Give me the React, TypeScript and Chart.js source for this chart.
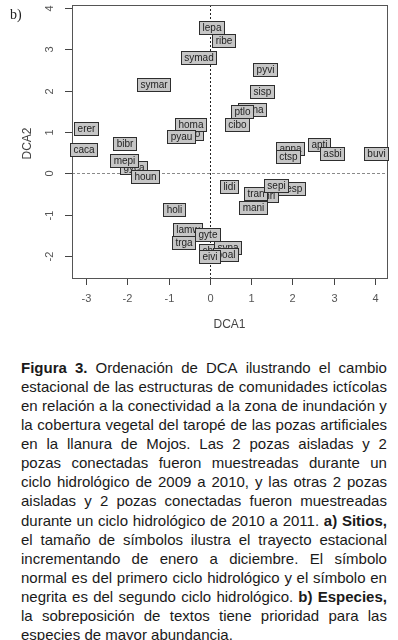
import React, { useEffect, useRef } from 'react';
import { Chart, registerables } from 'chart.js';

Chart.register(...registerables);

// Species labels (draw order: later ones are drawn on top)
const species = [
  'lepa', 'ribe', 'symad', 'symar', 'pyvi', 'sisp', 'pona', 'ptlo', 'cibo',
  'anna', 'ctsp', 'apti', 'asbi', 'buvi', 'erer', 'caca', 'bibr', 'gyca',
  'mepi', 'houn', 'hypo', 'homa', 'pyau', 'holi', 'crla', 'lamw', 'trga',
  'gyte', 'chsi', 'syna', 'boal', 'eivi', 'lidi', 'hesp', 'phri', 'tran',
  'sepi', 'mani',
];
const dca1 = [
  0.03, 0.34, -0.27, -1.36, 1.33, 1.26, 1.02, 0.77, 0.65,
  1.94, 1.89, 2.64, 2.95, 4.02, -3.0, -3.05, -2.06, -1.84,
  -2.08, -1.57, -0.51, -0.48, -0.7, -0.87, -0.63, -0.53, -0.63,
  -0.05, 0.02, 0.43, 0.39, 0.0, 0.46, 1.96, 1.36, 1.11,
  1.6, 1.04,
];
const dca2 = [
  3.52, 3.2, 2.79, 2.16, 2.52, 1.99, 1.55, 1.5, 1.17,
  0.61, 0.41, 0.7, 0.49, 0.49, 1.09, 0.58, 0.73, 0.15,
  0.32, -0.07, 0.97, 1.19, 0.9, -0.87, -1.41, -1.36, -1.67,
  -1.48, -1.87, -1.8, -1.97, -2.01, -0.32, -0.36, -0.53, -0.49,
  -0.29, -0.83,
];

const xTicks = [-3, -2, -1, 0, 1, 2, 3, 4];
const yTicks = [-2, -1, 0, 1, 2, 3, 4];
const xTitle = 'DCA1';
const yTitle = 'DCA2';
const panelLabel = 'b)';

const caption = [
  '**Figura** **3.** Ordenación de DCA ilustrando el cambio',
  'estacional de las estructuras de comunidades ictícolas',
  'en relación a la conectividad a la zona de inundación y',
  'la cobertura vegetal del taropé de las pozas artificiales',
  'en la llanura de Mojos. Las 2 pozas aisladas y 2',
  'pozas conectadas fueron muestreadas durante un',
  'ciclo hidrológico de 2009 a 2010, y las otras 2 pozas',
  'aisladas y 2 pozas conectadas fueron muestreadas',
  'durante un ciclo hidrológico de 2010 a 2011. **a)** **Sitios,**',
  'el tamaño de símbolos ilustra el trayecto estacional',
  'incrementando de enero a diciembre. El símbolo',
  'normal es del primero ciclo hidrológico y el símbolo en',
  'negrita es del segundo ciclo hidrológico. **b)** **Especies,**',
  'la sobreposición de textos tiene prioridad para las',
  'especies de mayor abundancia.',
];

const SANS = '"Liberation Sans", Arial, Helvetica, sans-serif';

const ordPlugin = {
  id: 'ordination',
  beforeDatasetsDraw(chart: any) {
    const { ctx, chartArea: a, scales } = chart;
    const x = scales.x;
    const y = scales.y;
    ctx.save();
    // zero reference lines
    ctx.lineWidth = 1;
    ctx.setLineDash([3, 2]);
    ctx.strokeStyle = '#8a8a8a';
    const y0 = Math.round(y.getPixelForValue(0)) + 0.5;
    ctx.beginPath();
    ctx.moveTo(a.left, y0);
    ctx.lineTo(a.right, y0);
    ctx.stroke();
    ctx.setLineDash([2, 2]);
    ctx.strokeStyle = '#222';
    const x0 = Math.round(x.getPixelForValue(0)) + 0.5;
    ctx.beginPath();
    ctx.moveTo(x0, a.top);
    ctx.lineTo(x0, a.bottom);
    ctx.stroke();
    ctx.setLineDash([]);

    // frame
    ctx.strokeStyle = '#555';
    ctx.strokeRect(Math.round(a.left) + 0.5, Math.round(a.top) + 0.5,
      Math.round(a.right - a.left), Math.round(a.bottom - a.top));

    // x ticks
    ctx.strokeStyle = '#444';
    ctx.fillStyle = '#555';
    ctx.font = '11px ' + SANS;
    ctx.textAlign = 'center';
    ctx.textBaseline = 'middle';
    xTicks.forEach((t) => {
      const px = Math.round(x.getPixelForValue(t)) + 0.5;
      ctx.beginPath();
      ctx.moveTo(px, a.bottom + 1);
      ctx.lineTo(px, a.bottom + 7);
      ctx.stroke();
      ctx.fillText(String(t), px, a.bottom + 21);
    });
    // y ticks (labels parallel to axis)
    yTicks.forEach((t) => {
      const py = Math.round(y.getPixelForValue(t)) + 0.5;
      ctx.beginPath();
      ctx.moveTo(a.left - 7, py);
      ctx.lineTo(a.left, py);
      ctx.stroke();
      ctx.save();
      ctx.translate(a.left - 22, py);
      ctx.rotate(-Math.PI / 2);
      ctx.fillText(String(t), 0, 0);
      ctx.restore();
    });

    // axis titles
    ctx.fillStyle = '#444';
    ctx.font = '12px ' + SANS;
    ctx.fillText(xTitle, (a.left + a.right) / 2, a.bottom + 47);
    ctx.save();
    ctx.translate(28, (a.top + a.bottom) / 2 + 2);
    ctx.rotate(-Math.PI / 2);
    ctx.fillText(yTitle, 0, 0);
    ctx.restore();

    // panel label
    ctx.fillStyle = '#222';
    ctx.font = '14px "Liberation Serif", "Times New Roman", serif';
    ctx.textAlign = 'left';
    ctx.fillText(panelLabel, 10, 15);
    ctx.restore();
  },
  afterDatasetsDraw(chart: any) {
    const { ctx } = chart;
    const meta = chart.getDatasetMeta(0);
    ctx.save();
    ctx.font = '10px ' + SANS;
    ctx.textAlign = 'center';
    ctx.textBaseline = 'middle';
    ctx.lineWidth = 1;
    meta.data.forEach((pt: any, i: number) => {
      const label = species[i];
      const w = Math.round(ctx.measureText(label).width + 6);
      const h = 13;
      const left = Math.round(pt.x - w / 2) + 0.5;
      const top = Math.round(pt.y - h / 2) + 0.5;
      ctx.fillStyle = '#c6c6c6';
      ctx.fillRect(left, top, w, h);
      ctx.strokeStyle = '#2e2e2e';
      ctx.strokeRect(left, top, w, h);
      ctx.fillStyle = '#1e1e1e';
      ctx.fillText(label, left + w / 2, top + h / 2 + 0.5);
    });
    ctx.restore();
  },
};

function renderCaptionLine(line: string, idx: number, last: boolean) {
  const words = line.split(' ');
  const items = words.map((w, i) => {
    const bold = w.startsWith('**') && w.endsWith('**');
    const txt = bold ? w.slice(2, -2) : w;
    const sep = last && i < words.length - 1 ? ' ' : '';
    return bold ? (
      <b key={i}>{txt}{sep}</b>
    ) : (
      <span key={i}>{txt}{sep}</span>
    );
  });
  return (
    <div
      key={idx}
      style={{
        display: last ? 'block' : 'flex',
        justifyContent: 'space-between',
        whiteSpace: 'pre',
        height: '19.1px',
      }}
    >
      {items}
    </div>
  );
}

export default function App() {
  const ref = useRef<HTMLCanvasElement>(null);
  useEffect(() => {
    if (!ref.current) return;
    const chart = new Chart(ref.current, {
      type: 'scatter',
      data: {
        datasets: [
          {
            label: 'especies',
            data: species.map((_, i) => ({ x: dca1[i], y: dca2[i] })),
            pointRadius: 0,
            pointHoverRadius: 0,
          },
        ],
      },
      options: {
        responsive: false,
        maintainAspectRatio: false,
        devicePixelRatio: 1,
        animation: false,
        events: [],
        layout: { padding: { left: 72, top: 5, right: 11, bottom: 62 } },
        plugins: {
          legend: { display: false },
          tooltip: { enabled: false },
        },
        scales: {
          x: { type: 'linear', display: false, min: -3.339, max: 4.29 },
          y: { type: 'linear', display: false, min: -2.53, max: 4.07 },
        },
      },
      plugins: [ordPlugin],
    } as any);
    return () => chart.destroy();
  }, []);

  return (
    <div
      style={{
        position: 'absolute',
        left: 0,
        top: 0,
        width: 398,
        height: 640,
        overflow: 'hidden',
        background: '#fff',
      }}
    >
      <canvas
        ref={ref}
        width={398}
        height={340}
        style={{ position: 'absolute', left: 0, top: 0, width: 398, height: 340 }}
      />
      <div
        style={{
          position: 'absolute',
          left: 21,
          top: 357.8,
          width: 366,
          fontFamily: SANS,
          fontSize: '15px',
          lineHeight: '19.1px',
          color: '#1a1a1a',
        }}
      >
        {caption.map((l, i) => renderCaptionLine(l, i, i === caption.length - 1))}
      </div>
    </div>
  );
}
